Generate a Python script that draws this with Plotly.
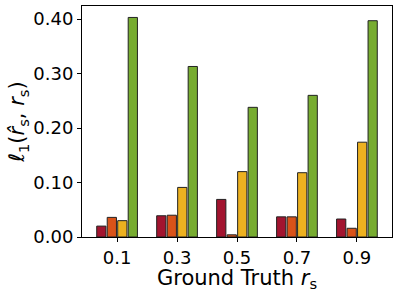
import plotly.graph_objects as go

categories = ["0.1", "0.3", "0.5", "0.7", "0.9"]
series_a = [0.020, 0.039, 0.069, 0.037, 0.033]
series_b = [0.036, 0.040, 0.004, 0.037, 0.016]
series_c = [0.030, 0.091, 0.120, 0.118, 0.174]
series_d = [0.403, 0.313, 0.238, 0.260, 0.397]
colors = ["#A2142F", "#D95319", "#EDB120", "#77AC30"]
y_ticks = [0.0, 0.1, 0.2, 0.3, 0.4]
y_tick_labels = ["0.00", "0.10", "0.20", "0.30", "0.40"]

xpos = list(range(len(categories)))
fig = go.Figure()
for vals, col in zip([series_a, series_b, series_c, series_d], colors):
    fig.add_trace(go.Bar(x=xpos, y=vals, marker=dict(color=col, line=dict(color="#222222", width=1)),
                         showlegend=False))

tick_font = dict(family="DejaVu Sans", size=18, color="black")
title_font = dict(family="DejaVu Sans", size=21, color="black")
fig.update_layout(
    width=398, height=292,
    margin=dict(l=82, r=6, t=6, b=55),
    paper_bgcolor="white", plot_bgcolor="white",
    barmode="group", bargap=0.3, bargroupgap=0.12,
    font=tick_font,
)
fig.update_xaxes(
    range=[-0.585, 4.585], tickvals=xpos, ticktext=categories,
    showline=True, linecolor="black", linewidth=1, mirror=True,
    ticks="outside", ticklen=4, tickcolor="black", showgrid=False, zeroline=False,
    tickfont=tick_font, automargin=False,
    title=dict(text="Ground Truth <i>r</i><sub>s</sub>", font=title_font, standoff=0),
)
fig.update_yaxes(
    range=[0, 0.424], tickvals=y_ticks, ticktext=y_tick_labels,
    showline=True, linecolor="black", linewidth=1, mirror=True,
    ticks="outside", ticklen=4, tickcolor="black", showgrid=False, zeroline=False,
    tickfont=tick_font, automargin=False,
    title=dict(text="<i>ℓ</i><sub>1</sub>(<i>r̂</i><sub>s</sub>, <i>r</i><sub>s</sub>)", font=title_font, standoff=2),
)
fig.write_html("out.html", config={"displayModeBar": False},
               post_script="document.body.style.margin='0';document.body.style.padding='0';")
